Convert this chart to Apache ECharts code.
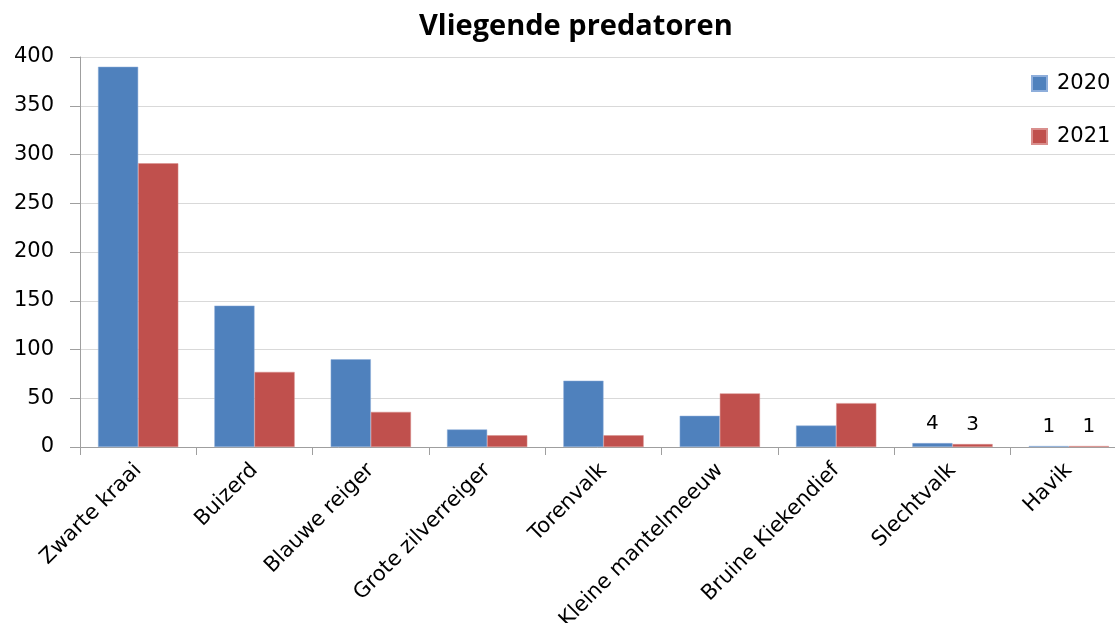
<!DOCTYPE html>
<html>
<head>
<meta charset="utf-8">
<script src="https://cdn.jsdelivr.net/npm/echarts@6/dist/echarts.min.js"></script>
<style>
  html, body { margin: 0; padding: 0; background: #fff; }
  #chart { width: 1115px; height: 623px; }
</style>
</head>
<body>
<div id="chart"></div>
<script>
// soorten
const categories = [
  "Zwarte kraai", "Buizerd", "Blauwe reiger", "Grote zilverreiger", "Torenvalk",
  "Kleine mantelmeeuw", "Bruine Kiekendief", "Slechtvalk", "Havik"
];
const values2020 = [390, 145, 90, 18, 68, 32, 22, 4, 1];
const values2021 = [291, 77, 36, 12, 12, 55, 45, 3, 1];
// alleen de kleine balken krijgen een label
const labelled = ["Slechtvalk", "Havik"];

function withLabels(arr) {
  return arr.map((v, i) => {
    if (labelled.indexOf(categories[i]) >= 0) {
      return { value: v, label: { show: true } };
    }
    return v;
  });
}

let font = "DejaVu Sans";
let option = {
  animation: false,
  title: {
    text: "Vliegende predatoren",
    left: 414,
    top: 7,
    textStyle: { fontFamily: "Open Sans", fontSize: 29, fontWeight: "bold", color: "#000" },
  },
  legend: {
    orient: "vertical",
    left: 1026,
    top: 68,
    itemWidth: 15,
    itemHeight: 15,
    itemGap: 32,
    icon: "rect",
    textStyle: { fontFamily: font, fontSize: 21, color: "#000", padding: [0, 0, 0, 5] },
    data: ["2020", "2021"],
  },
  grid: {
    left: 80,
    top: 57,
    width: 1047,
    bottom: 176,
    containLabel: false,
    outerBoundsMode: "none",
  },
  xAxis: {
    type: "category",
    data: categories,
    axisLine: { lineStyle: { color: "#9f9f9f" } },
    axisTick: { show: true, length: 8, lineStyle: { color: "#9f9f9f" } },
    axisLabel: {
      interval: 0,
      rotate: 45,
      margin: 20,
      fontFamily: font,
      fontSize: 21,
      color: "#000",
    },
  },
  yAxis: {
    type: "value",
    min: 0,
    max: 400,
    interval: 50,
    axisLine: { show: true, lineStyle: { color: "#9f9f9f" } },
    axisTick: { show: true, length: 10, lineStyle: { color: "#9f9f9f" } },
    axisLabel: { fontFamily: font, fontSize: 21, color: "#000", margin: 26 },
    splitLine: { lineStyle: { color: "#d9d9d9" } },
  },
  series: [
    {
      name: "2020",
      type: "bar",
      barGap: "0%",
      barCategoryGap: "31%",
      color: "#4F81BD",
      itemStyle: { borderColor: "#8eaedb", borderWidth: 0.5 },
      label: { position: "top", distance: 9, fontFamily: font, fontSize: 20, color: "#000" },
      data: withLabels(values2020),
    },
    {
      name: "2021",
      type: "bar",
      color: "#C0504D",
      itemStyle: { borderColor: "#d98f8d", borderWidth: 0.5 },
      label: { position: "top", distance: 9, fontFamily: font, fontSize: 20, color: "#000" },
      data: withLabels(values2021),
    },
  ],
};

let myChart = echarts.init(document.getElementById("chart"));
myChart.setOption(option, true);
</script>
</body>
</html>
